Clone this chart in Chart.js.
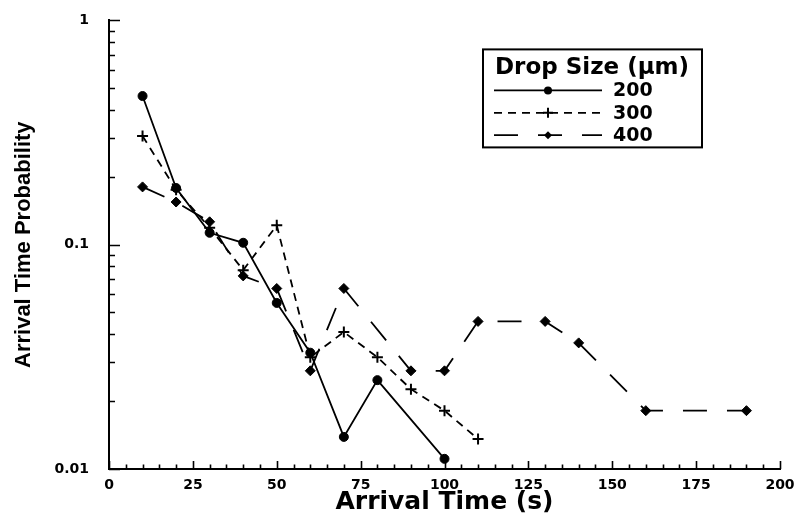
<!DOCTYPE html>
<html>
<head>
<meta charset="utf-8">
<script src="https://cdn.jsdelivr.net/npm/chart.js@4.4.1/dist/chart.umd.min.js"></script>
<style>
  html, body { margin: 0; padding: 0; background: #fff; }
  #wrap { width: 796px; height: 515px; }
</style>
</head>
<body>
<div id="wrap"><canvas id="myChart"></canvas></div>
<script>
'use strict';

// arrival time (s) and probability for each drop size
let times200 = [10, 20, 30, 40, 50, 60, 70, 80, 100];
let prob200 = [0.46, 0.179, 0.113, 0.102, 0.055, 0.033, 0.0139, 0.0249, 0.0111];

let times300 = [10, 20, 30, 40, 50, 60, 70, 80, 90, 100, 110];
let prob300 = [0.305, 0.176, 0.119, 0.077, 0.122, 0.0315, 0.0408, 0.0315, 0.0227, 0.0182, 0.0136];

let times400 = [10, 20, 30, 40, 50, 60, 70, 90, 100, 110, 130, 140, 160, 190];
let prob400 = [0.181, 0.155, 0.1265, 0.0726, 0.0638, 0.0274, 0.0638, 0.0274, 0.0274, 0.0455, 0.0455, 0.0365, 0.0182, 0.0182];

let dropSizes = ['200', '300', '400'];
let legendTitle = 'Drop Size (\u03bcm)';

let xTickStep = 25;
let xMinorStep = 5;
let yTickValues = [
  0.01, 0.02, 0.03, 0.04, 0.05, 0.06, 0.07, 0.08, 0.09,
  0.1, 0.2, 0.3, 0.4, 0.5, 0.6, 0.7, 0.8, 0.9, 1
];

function toPoints(xs, ys) {
  return xs.map((x, i) => ({ x: x, y: ys[i] }));
}

function isDecade(v) {
  let l = Math.log10(v);
  return Math.abs(l - Math.round(l)) < 1e-9;
}

const wideFont = 'DejaVu Sans';

// tick marks pointing into the plot, long on majors
const innerTicks = {
  id: 'innerTicks',
  afterDraw(chart) {
    let ctx = chart.ctx;
    let xs = chart.scales.x;
    let ys = chart.scales.y;
    let ca = chart.chartArea;
    ctx.save();
    ctx.strokeStyle = '#000';
    ctx.lineWidth = 1.6;
    ctx.beginPath();
    for (let v = xs.min; v <= xs.max; v += xMinorStep) {
      let px = Math.round(xs.getPixelForValue(v)) + 0.5;
      let len = v % xTickStep === 0 ? 8 : 4.5;
      ctx.moveTo(px, ca.bottom);
      ctx.lineTo(px, ca.bottom - len);
    }
    ys.ticks.forEach(t => {
      let py = Math.round(ys.getPixelForValue(t.value)) + 0.5;
      let len = isDecade(t.value) ? 11 : 6;
      ctx.moveTo(ca.left, py);
      ctx.lineTo(ca.left + len, py);
    });
    ctx.stroke();
    ctx.restore();
  }
};

function drawMarker(ctx, style, x, y, r) {
  ctx.beginPath();
  if (style === 'circle') {
    ctx.arc(x, y, r, 0, Math.PI * 2);
    ctx.fill();
  } else if (style === 'cross') {
    ctx.lineWidth = 2;
    ctx.setLineDash([]);
    ctx.moveTo(x - r, y); ctx.lineTo(x + r, y);
    ctx.moveTo(x, y - r); ctx.lineTo(x, y + r);
    ctx.stroke();
  } else {
    ctx.moveTo(x, y - r); ctx.lineTo(x + r, y);
    ctx.lineTo(x, y + r); ctx.lineTo(x - r, y);
    ctx.closePath();
    ctx.fill();
  }
}

// boxed legend with line samples like the original plot
const boxLegend = {
  id: 'boxLegend',
  afterDraw(chart) {
    let ctx = chart.ctx;
    let ca = chart.chartArea;
    let left = ca.left + 374;
    let top = ca.top + 29;
    let w = 219;
    let h = 98;
    ctx.save();
    ctx.fillStyle = '#fff';
    ctx.fillRect(left, top, w, h);
    ctx.strokeStyle = '#000';
    ctx.lineWidth = 2;
    ctx.strokeRect(left, top, w, h);
    ctx.fillStyle = '#000';
    ctx.textBaseline = 'middle';
    ctx.font = 'bold 23px "' + wideFont + '"';
    ctx.fillText(legendTitle, left + 12, top + 19);
    chart.data.datasets.forEach((ds, i) => {
      let y = top + 41 + i * 22.4;
      let x0 = left + 11;
      let x1 = left + 119;
      ctx.strokeStyle = '#000';
      ctx.lineWidth = ds.borderWidth;
      ctx.setLineDash(ds.borderDash || []);
      ctx.beginPath();
      ctx.moveTo(x0, y);
      ctx.lineTo(x1, y);
      ctx.stroke();
      ctx.setLineDash([]);
      drawMarker(ctx, ds.pointStyle, (x0 + x1) / 2, y, ds.pointStyle === 'cross' ? 5 : 4);
      ctx.font = 'bold 19px "' + wideFont + '"';
      ctx.fillText(ds.label, left + 130, y + 1);
    });
    ctx.restore();
  }
};

let ctx = document.getElementById('myChart').getContext('2d');

let myChart = new Chart(ctx, {
  type: 'scatter',
  data: {
    datasets: [{
      label: dropSizes[0],
      data: toPoints(times200, prob200),
      showLine: true,
      borderColor: '#000',
      backgroundColor: '#000',
      borderWidth: 1.8,
      pointStyle: 'circle',
      pointRadius: 4.5,
      pointBorderWidth: 1
    }, {
      label: dropSizes[1],
      data: toPoints(times300, prob300),
      showLine: true,
      borderColor: '#000',
      backgroundColor: '#000',
      borderWidth: 1.8,
      borderDash: [8, 6],
      pointStyle: 'cross',
      pointRadius: 5.5,
      pointBorderWidth: 2
    }, {
      label: dropSizes[2],
      data: toPoints(times400, prob400),
      showLine: true,
      borderColor: '#000',
      backgroundColor: '#000',
      borderWidth: 1.8,
      borderDash: [24, 20],
      pointStyle: 'rectRot',
      pointRadius: 5,
      pointBorderWidth: 1
    }]
  },
  options: {
    responsive: true,
    maintainAspectRatio: false,
    animation: false,
    layout: {
      padding: { top: 16, right: 16, left: 0, bottom: 0 }
    },
    plugins: {
      legend: { display: false },
      tooltip: { enabled: false }
    },
    scales: {
      x: {
        type: 'linear',
        min: 0,
        max: 200,
        afterFit: s => { s.height = 46; },
        grid: { display: false },
        border: { display: true, color: '#000', width: 2 },
        ticks: {
          stepSize: xTickStep,
          padding: 0,
          color: '#000',
          maxRotation: 0,
          font: { family: wideFont, size: 14, weight: 'bold' }
        },
        title: {
          display: true,
          text: 'Arrival Time (s)',
          color: '#000',
          padding: { top: 0, bottom: 0 },
          font: { family: wideFont, size: 25, weight: 'bold', lineHeight: 1 }
        }
      },
      y: {
        type: 'logarithmic',
        min: 0.01,
        max: 1,
        afterFit: s => { s.width = 109; },
        afterBuildTicks: s => { s.ticks = yTickValues.map(v => ({ value: v })); },
        grid: { display: false },
        border: { display: true, color: '#000', width: 2 },
        ticks: {
          autoSkip: false,
          padding: 12,
          color: '#000',
          font: { family: wideFont, size: 14, weight: 'bold' },
          callback: v => (isDecade(v) ? String(v) : '')
        },
        title: {
          display: true,
          text: 'Arrival Time Probability',
          color: '#000',
          padding: { top: 11, bottom: 0 },
          font: { family: 'Liberation Sans', size: 22, weight: 'bold', lineHeight: 1.2 }
        }
      }
    }
  },
  plugins: [innerTicks, boxLegend]
});
</script>
</body>
</html>
